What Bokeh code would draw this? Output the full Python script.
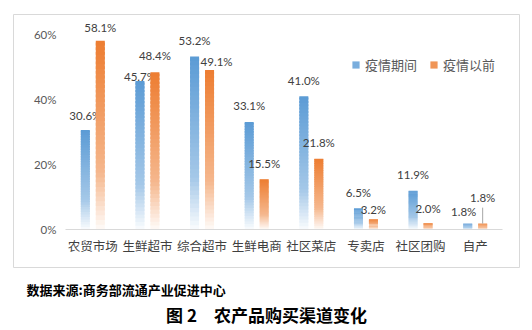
from bokeh.plotting import figure
from bokeh.models import (Range1d, ColumnDataSource, FixedTicker, NumeralTickFormatter,
                          Legend, LegendItem, Title)
from bokeh.transform import dodge
from bokeh.core.properties import value
from bokeh.embed import file_html
from bokeh.resources import INLINE

# ---------------- data ----------------
categories = ["农贸市场", "生鲜超市", "综合超市", "生鲜电商", "社区菜店", "专卖店", "社区团购", "自产"]
during = [30.6, 45.7, 53.2, 33.1, 41.0, 6.5, 11.9, 1.8]   # 疫情期间 (%)
before = [58.1, 48.4, 49.1, 15.5, 21.8, 3.2, 2.0, 1.8]    # 疫情以前 (%)
series_names = ["疫情期间", "疫情以前"]
y_ticks = [0, 0.2, 0.4, 0.6]
source_note = "数据来源:商务部流通产业促进中心"
title_text = "图 2　农产品购买渠道变化"

# ---------------- styles ----------------
BLUE = (91, 155, 213)
ORANGE = (237, 125, 49)
CJK = "Noto Sans CJK SC"
NUM = "Lato"
BAR_W = 0.165
OFFS = [-0.137, 0.137]
N_SLICES = 40
# frame = outer chart box: x 13..519, y 14..267 ; plot area x 65..502, y 0% at 229
PX_X = (502 - 65) / 8.0
PX_Y = 325.0
X_START = -0.5 - (65 - 13) / PX_X
X_END = 7.5 + (519 - 502) / PX_X
Y_START = -(267 - 229) / PX_Y
Y_END = (229 - 14) / PX_Y
label_dx = [[0, 0, 0, 0, 0, 0, 0, -4], [0, 0, 7, 0, 0, 0, 0, 0]]
label_dy = [[-15, -4, -16, -16, -16, -16, -16, -12], [-13, -17, -8, -16, -16, -10, -15, -26]]


def shade(rgb, t):
    # t: 0 at bar top, 1 at bar bottom
    if t < 0.7:
        f = 0.45 * t / 0.7
    else:
        f = 0.45 + 0.52 * (t - 0.7) / 0.3
    f = min(f, 0.97)
    c = [int(round(ch + (255 - ch) * f)) for ch in rgb]
    return "#%02x%02x%02x" % tuple(c)


p = figure(width=532, height=330, output_backend="svg", toolbar_location=None, tools="",
           x_range=Range1d(X_START, X_END), y_range=Range1d(Y_START, Y_END),
           min_border_left=13, min_border_right=13, min_border_top=14, min_border_bottom=63)
p.background_fill_color = "white"
p.border_fill_color = "white"
p.outline_line_color = "#d9d9d9"
p.outline_line_width = 1
p.xgrid.visible = False
p.ygrid.visible = False

xpos = list(range(len(categories)))
renderers = []
for s, (vals, rgb) in enumerate(zip([during, before], [BLUE, ORANGE])):
    xs, bots, tops, cols = [], [], [], []
    for xi, v in zip(xpos, vals):
        vv = v / 100.0
        for k in range(N_SLICES):
            t = 1 - (k + 0.5) / N_SLICES
            xs.append(xi)
            bots.append(vv * k / N_SLICES)
            tops.append(min(vv * (k + 1.6) / N_SLICES, vv))
            cols.append(shade(rgb, t))
    src = ColumnDataSource(dict(x=xs, bottom=bots, top=tops, color=cols))
    r = p.vbar(x=dodge("x", OFFS[s]), bottom="bottom", top="top",
               width=BAR_W, fill_color="color", line_color=None, source=src)
    renderers.append(r)

    lsrc = ColumnDataSource(dict(x=xpos, v=[v / 100.0 for v in vals],
                                 lbl=["%.1f%%" % v for v in vals],
                                 dx=label_dx[s], dy=label_dy[s]))
    p.text(x=dodge("x", OFFS[s]), y="v", text="lbl",
           x_offset="dx", y_offset="dy", text_align="center", text_baseline="middle",
           text_font=value(NUM), text_font_size="11.5px", text_color="#404040", source=lsrc)

# leader line for the last orange label
lead = ColumnDataSource(dict(x=[xpos[-1]], y0=[before[-1] / 100.0],
                             y1=[before[-1] / 100.0 + 16 / PX_Y]))
p.segment(x0=dodge("x", OFFS[1]), y0="y0", x1=dodge("x", OFFS[1]), y1="y1",
          line_color="#a6a6a6", line_width=1, source=lead)

# axes (drawn inside the chart box)
xa = p.xaxis[0]
xa.fixed_location = 0
xa.bounds = (-0.5, 7.5)
xa.ticker = FixedTicker(ticks=xpos)
xa.major_label_overrides = {i: c for i, c in zip(xpos, categories)}
xa.axis_line_color = "#d9d9d9"
xa.axis_line_width = 1
xa.major_tick_line_color = None
xa.minor_tick_line_color = None
xa.major_tick_out = 0
xa.major_tick_in = 0
xa.major_label_standoff = 6
xa.major_label_text_font = CJK
xa.major_label_text_font_size = "12.5px"
xa.major_label_text_color = "#404040"

ya = p.yaxis[0]
ya.fixed_location = -0.5
ya.axis_line_color = None
ya.major_tick_line_color = None
ya.minor_tick_line_color = None
ya.major_tick_out = 0
ya.major_tick_in = 0
ya.ticker = FixedTicker(ticks=y_ticks)
ya.formatter = NumeralTickFormatter(format="0%")
ya.major_label_standoff = 9
ya.major_label_text_font = NUM
ya.major_label_text_font_size = "11.5px"
ya.major_label_text_color = "#595959"

# legend
idx = int(0.7 * N_SLICES)
legend = Legend(items=[LegendItem(label=series_names[0], renderers=[renderers[0]], index=idx),
                       LegendItem(label=series_names[1], renderers=[renderers[1]], index=idx)],
                orientation="horizontal", location=(338, 193))
legend.glyph_width = 9
legend.glyph_height = 9
legend.label_standoff = 5
legend.spacing = 12
legend.padding = 0
legend.margin = 0
legend.border_line_color = None
legend.background_fill_alpha = 0
legend.label_text_font = CJK
legend.label_text_font_size = "13px"
legend.label_text_color = "#595959"
legend.label_height = 18
p.add_layout(legend)

# footnote and caption below the chart box
p.add_layout(Title(text=source_note, align="left", offset=13, standoff=20,
                   text_font=CJK, text_font_size="13px", text_font_style="bold",
                   text_color="#000000"), "below")
p.add_layout(Title(text=title_text, align="center", standoff=-18,
                   text_font=CJK, text_font_size="17px", text_font_style="bold",
                   text_color="#000000"), "below")

open("out.html", "w").write(file_html(p, INLINE))
